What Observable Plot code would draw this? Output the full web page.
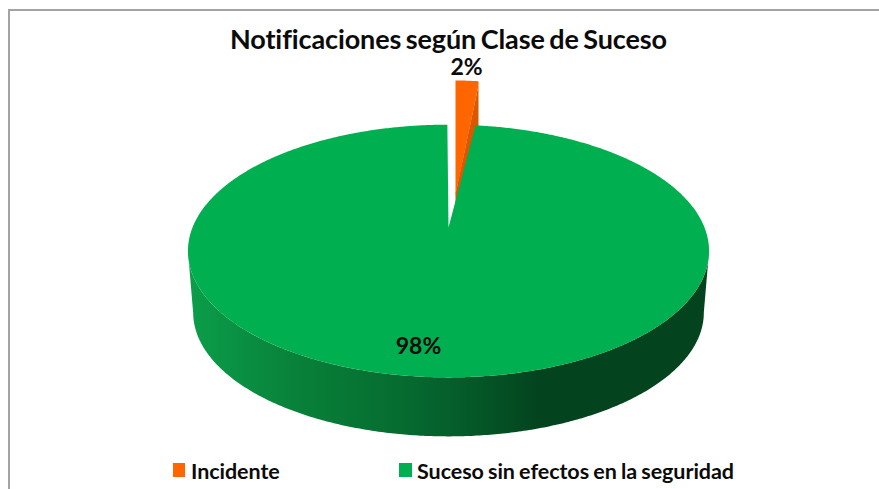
<!DOCTYPE html>
<html lang="es">
<head>
<meta charset="utf-8">
<script src="https://cdn.jsdelivr.net/npm/d3@7"></script>
<script src="https://cdn.jsdelivr.net/npm/@observablehq/plot@0.6"></script>
<style>
  html, body { margin: 0; background: #fff; }
  #page { position: relative; width: 879px; height: 489px; overflow: hidden; font-family: Lato, "Open Sans", sans-serif; color: #0b0b0b; font-variant-ligatures: none; }
  #frame { position: absolute; left: 8px; top: 9px; right: -4px; bottom: -4px; border: 2px solid #a3a3a3; }
  #title { position: absolute; left: 0; top: 26px; width: 897px; text-align: center; font-weight: 700; font-size: 27px; line-height: 26px; letter-spacing: -0.1px; word-spacing: -2px; }
  #chart { position: absolute; left: 0; top: 50px; }
  .key { position: absolute; top: 457px; font-weight: 700; font-size: 21.5px; line-height: 28px; white-space: nowrap; word-spacing: -1px; letter-spacing: -0.05px; }
  .key i { position: absolute; top: 6px; height: 14px; }
</style>
</head>
<body>
<div id="page">
  <div id="frame"></div>
  <div id="title"></div>
  <div id="chart"></div>
  <div id="legend"></div>
</div>
<script>
const chartTitle = "Notificaciones según Clase de Suceso";
const categories = ["Incidente", "Suceso sin efectos en la seguridad"];
const percentages = [2, 98];
const faceColors = ["#ff6600", "#00b050"];
const cutColor = "#d95800";
const wallStopsX = [187, 300, 400, 450, 540, 709];
const wallStopsColor = ["#0b9e4a", "#088039", "#066c30", "#055f2b", "#03431e", "#03431e"];

// Perspective projection of the pie disc, in page pixels
const cx = 448, cy = 227, R = 256, S = 122, k = 0.186;
const uv = (t) => ({u: Math.sin(t), v: Math.cos(t), w: 1 + k * Math.cos(t)});
const top_ = (t) => { const {u, v, w} = uv(t); return [cx + R * u / w, cy - S * v / w]; };
const base = (t) => { const {u, v, w} = uv(t); return [cx + 0.98 * R * u / w, 289 - 0.98 * S * v / w]; };

const rad = (p) => (p / 100) * 2 * Math.PI;
const slice1 = rad(percentages[0]);

// Front wall of the large slice, between the two silhouette tangents
const step = Math.PI / 360;
const tangent = Math.acos(-k);
const wallUpper = [], wallLower = [];
for (let t = tangent; t <= 2 * Math.PI - tangent + 1e-9; t += step) {
  wallUpper.push(top_(t));
  wallLower.push(base(t));
}
const wall = wallUpper.concat(wallLower.reverse());

// Large slice top face
const largeFace = [[cx, cy]];
for (let t = slice1; t <= 2 * Math.PI + 1e-9; t += step) largeFace.push(top_(t));

// Exploded small slice
const apex = [455, 195], sx = 0.85, sy = 1.118;
const exploded = (t) => { const [x, y] = top_(t); return [apex[0] + (x - cx) * sx, apex[1] + (y - cy) * sy]; };
const smallFace = [apex];
for (let i = 0; i <= 8; i++) smallFace.push(exploded(slice1 * i / 8));
const tip = smallFace[smallFace.length - 1];
smallFace.push([tip[0], tip[1] + 4]);
const smallCut = [[apex[0], apex[1] - 2], [tip[0], tip[1] + 4], [tip[0], tip[1] + 120], [apex[0], apex[1] + 65]];
const rows = (pts) => pts.map(([x, y]) => ({x, y}));

const labels = [
  {x: 466, y: 67, text: percentages[0] + "%"},
  {x: 418, y: 346, text: percentages[1] + "%"}
];

document.getElementById("title").textContent = chartTitle;

const wallGradient = () => {
  const defs = d3.create("svg:defs");
  const g = defs.append("linearGradient").attr("id", "wallGrad")
    .attr("gradientUnits", "userSpaceOnUse")
    .attr("x1", wallStopsX[0]).attr("x2", wallStopsX[wallStopsX.length - 1])
    .attr("y1", 0).attr("y2", 0);
  const span = wallStopsX[wallStopsX.length - 1] - wallStopsX[0];
  wallStopsX.forEach((x, i) => g.append("stop")
    .attr("offset", (x - wallStopsX[0]) / span)
    .attr("stop-color", wallStopsColor[i]));
  return defs.node();
};

const chart = Plot.plot({
  width: 879,
  height: 400,
  margin: 0,
  x: {type: "linear", domain: [0, 879], range: [0, 879], axis: null},
  y: {type: "linear", domain: [50, 450], range: [0, 400], axis: null},
  style: {background: "transparent"},
  marks: [
    wallGradient,
    Plot.line(rows(smallCut), {x: "x", y: "y", fill: cutColor, stroke: "none", curve: "linear"}),
    Plot.line(rows(smallFace), {x: "x", y: "y", fill: faceColors[0], stroke: "none", curve: "linear"}),
    Plot.line(rows(wall), {x: "x", y: "y", fill: "url(#wallGrad)", stroke: "none", curve: "linear"}),
    Plot.line(rows(largeFace), {x: "x", y: "y", fill: faceColors[1], stroke: "none", curve: "linear"}),
    Plot.text(labels, {x: "x", y: "y", text: "text", fontSize: 23, fontWeight: 700, fontFamily: "Lato, 'Open Sans', sans-serif", fill: "#0b0b0b", textAnchor: "middle", lineAnchor: "middle"})
  ]
});
document.getElementById("chart").appendChild(chart);

const legendLeft = [173, 399];
const swatchWidth = [12, 13];
const legend = document.getElementById("legend");
categories.forEach((name, i) => {
  const el = document.createElement("div");
  el.className = "key";
  el.style.left = legendLeft[i] + "px";
  const sw = document.createElement("i");
  sw.style.background = faceColors[i];
  sw.style.width = swatchWidth[i] + "px";
  const tx = document.createElement("span");
  tx.style.marginLeft = "18px";
  tx.textContent = name;
  el.append(sw, tx);
  legend.appendChild(el);
});
</script>
</body>
</html>
